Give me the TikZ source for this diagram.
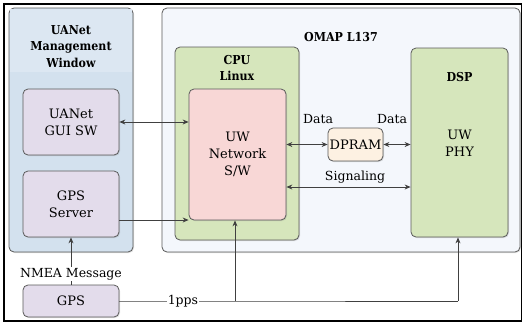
\documentclass[tikz,border=0pt]{standalone}
\usepackage{fontspec}
\setmainfont{DejaVu Serif}
\newfontfamily\titlefont{DejaVu Serif Condensed}
\usetikzlibrary{arrows.meta,shadows}
\definecolor{edgec}{HTML}{5A5A5A}
\definecolor{leftfill}{HTML}{D3E1EE}
\definecolor{lefthead}{HTML}{DCE7F2}
\definecolor{purp}{HTML}{E3DCEB}
\definecolor{omapfill}{HTML}{F4F7FC}
\definecolor{greenf}{HTML}{D6E6BC}
\definecolor{pinkf}{HTML}{F8D7D6}
\definecolor{dpramf}{HTML}{FDF1E2}
\definecolor{arrc}{HTML}{404040}
\tikzset{
  panel/.style={draw=edgec, line width=0.8pt, rounded corners=5pt, inner sep=0pt, drop shadow={opacity=0.25, shadow xshift=1pt, shadow yshift=-1pt}},
  sbox/.style={panel, align=center, font=\fontsize{13}{17}\selectfont},
  ttl/.style={font=\titlefont\bfseries\fontsize{12.3}{16.5}\selectfont, align=center, inner sep=0pt},
  lbl/.style={font=\fontsize{12.5}{15}\selectfont, inner sep=1pt},
  conn/.style={draw=arrc, line width=0.8pt},
  arr/.style={conn, -{Stealth[length=6pt,width=5pt]}},
  darr/.style={conn, {Stealth[length=6pt,width=5pt]}-{Stealth[length=6pt,width=5pt]}},
}
\begin{document}
\begin{tikzpicture}[x=1pt,y=-1pt]
\useasboundingbox (0,0) rectangle (523,325);
\fill[white] (0,0) rectangle (523,325);
\draw[black, line width=1.6pt] (4,4) rectangle (521.5,321);
% left panel
\node[panel, fill=leftfill, minimum width=124pt, minimum height=244pt] (left) at (71,130) {};
\fill[lefthead] (10,9) rectangle (132,72);
\node[ttl] (lefttitle) at (71,46.5) {UANet\\Management\\Window};
\node[sbox, fill=purp, minimum width=96pt, minimum height=66pt] (gui) at (71,122) {UANet\\GUI SW};
\node[sbox, fill=purp, minimum width=96pt, minimum height=66pt] (gpss) at (71,204) {GPS\\Server};
\node[sbox, fill=purp, minimum width=96pt, minimum height=32pt] (gps) at (71,301) {GPS};
% OMAP
\node[panel, fill=omapfill, minimum width=358pt, minimum height=244pt] (omap) at (341,130) {};
\node[ttl] (omaptitle) at (341,37) {OMAP L137};
\node[panel, fill=greenf, minimum width=124pt, minimum height=193pt] (cpu) at (237,143.5) {};
\node[ttl] (cputitle) at (237,68) {CPU\\Linux};
\node[sbox, fill=pinkf, minimum width=97pt, minimum height=131pt] (uw) at (237.5,154.5) {UW\\Network\\S/W};
\node[panel, fill=greenf, minimum width=97pt, minimum height=189pt] (dsp) at (459.5,142.5) {};
\node[ttl] (dsptitle) at (459.5,77) {DSP};
\node[align=center, font=\fontsize{13}{17}\selectfont, inner sep=0pt] (phy) at (459.5,143.5) {UW\\PHY};
\node[sbox, fill=dpramf, minimum width=55pt, minimum height=33pt] (dpram) at (355.5,144.5) {DPRAM};
% labels
\node[lbl, fill=omapfill] (data1) at (318,119) {Data};
\node[lbl, fill=omapfill] (data2) at (392,119) {Data};
\node[lbl] (sig) at (355,177) {Signaling};
% connectors
\draw[darr] (gui.east) -- (gui.east -| uw.west);
\draw[arr] ([yshift=-16pt]gpss.east) -- ([yshift=-16pt]gpss.east -| uw.west);
\draw[darr] (uw.east |- dpram.west) -- (dpram.west);
\draw[darr] (dpram.east) -- (dpram.east -| dsp.west);
\coordinate (s1) at (286,187);
\draw[darr] (uw.east |- s1) -- (s1 -| dsp.west);
\draw[arr] (gps.north) -- node[lbl, fill=white, pos=0.22] (nmea) {NMEA Message} (gpss.south);
\coordinate (j1) at (235,301);
\coordinate (j2) at (458,301);
\draw[conn] (gps.east) -- node[lbl, fill=white, pos=0.55] (pps) {1pps} (j1) -- (j2);
\draw[arr] (j1) -- (j1 |- uw.south);
\draw[arr] (j2) -- (j2 |- dsp.south);
\end{tikzpicture}
\end{document}
